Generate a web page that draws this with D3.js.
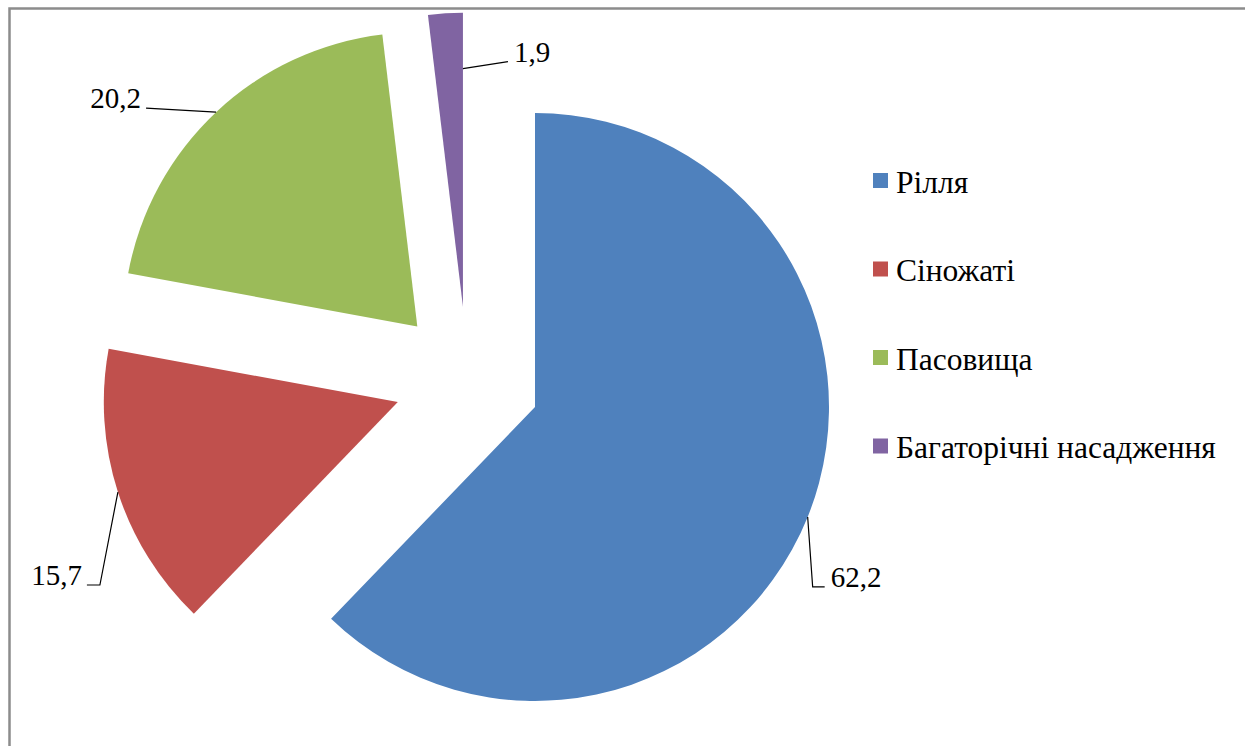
<!DOCTYPE html>
<html>
<head>
<meta charset="utf-8">
<script src="https://cdn.jsdelivr.net/npm/d3@7"></script>
</head>
<body style="margin:0">
<script>
var svgWidth = 1245;
var svgHeight = 746;

// data
var categories = ["Рілля", "Сіножаті", "Пасовища", "Багаторічні насадження"];
var values = [62.2, 15.7, 20.2, 1.9];
var valueLabels = ["62,2", "15,7", "20,2", "1,9"];
var colors = ["#4F81BD", "#C0504D", "#9BBB59", "#8064A2"];

// layout
var center = { x: 467.3, y: 379.7 };
var radius = 294;
var explode = 73;
var labelSize = 29;
var legendSize = 31.5;
var fontFamily = "'Liberation Serif'";

var svg = d3.select("body")
  .append("svg")
  .attr("width", svgWidth)
  .attr("height", svgHeight);

// chart border (only left and top visible inside the window)
svg.append("rect")
  .attr("x", 9.5)
  .attr("y", 8.5)
  .attr("width", svgWidth + 20)
  .attr("height", svgHeight + 20)
  .attr("fill", "none")
  .attr("stroke", "#8c8c8c")
  .attr("stroke-width", 2.5);

var pie = d3.pie().sort(null).value(d => d)(values);

var arc = d3.arc().innerRadius(0).outerRadius(radius);

function offsetOf(d) {
  var mid = (d.startAngle + d.endAngle) / 2;
  return [explode * Math.sin(mid), -explode * Math.cos(mid)];
}

var slices = svg.append("g")
  .attr("transform", `translate(${center.x}, ${center.y})`);

slices.selectAll("path")
  .data(pie)
  .enter()
  .append("path")
  .attr("transform", d => `translate(${offsetOf(d)})`)
  .attr("d", arc)
  .attr("fill", (d, i) => colors[i]);

// leader lines and value labels
// where the leader leaves the slice: angle (fraction inside slice) and radius fraction
var leaderAt = [
  { t: 0.5, r: 1 },
  { t: 0.5, r: 1 },
  { t: 0.5, r: 1 },
  { t: 1, r: 0.81 }
];
// elbow + end of leader, relative to the starting point
var leaderPath = [
  [[5, 70], [17, 70]],
  [[-18, 93], [-31, 93]],
  [[-70, -4]],
  [[45, -7]]
];
var labelAnchor = ["start", "end", "end", "start"];

var labels = slices.append("g");

pie.forEach(function(d, i) {
  var off = offsetOf(d);
  var a = d.startAngle + (d.endAngle - d.startAngle) * leaderAt[i].t;
  var r = radius * leaderAt[i].r;
  var sx = off[0] + r * Math.sin(a);
  var sy = off[1] - r * Math.cos(a);
  var pts = [[sx, sy]].concat(leaderPath[i].map(p => [sx + p[0], sy + p[1]]));
  labels.append("path")
    .attr("d", d3.line()(pts))
    .attr("fill", "none")
    .attr("stroke", "#000")
    .attr("stroke-width", 1.2);
  var end = pts[pts.length - 1];
  labels.append("text")
    .attr("x", end[0] + (labelAnchor[i] === "start" ? 6 : -5))
    .attr("y", end[1])
    .attr("text-anchor", labelAnchor[i])
    .attr("font-size", labelSize)
    .style("font-family", fontFamily)
    .text(valueLabels[i]);
});

// legend
var legend = svg.append("g")
  .attr("transform", "translate(873, 173)");

var rows = legend.selectAll("g")
  .data(categories)
  .enter()
  .append("g")
  .attr("transform", (d, i) => `translate(0, ${i * 88.5})`);

rows.append("rect")
  .attr("width", 15)
  .attr("height", 15)
  .attr("fill", (d, i) => colors[i]);

rows.append("text")
  .attr("x", 23)
  .attr("y", 19.5)
  .attr("font-size", legendSize)
  .style("font-family", fontFamily)
  .text(d => d);
</script>
</body>
</html>
